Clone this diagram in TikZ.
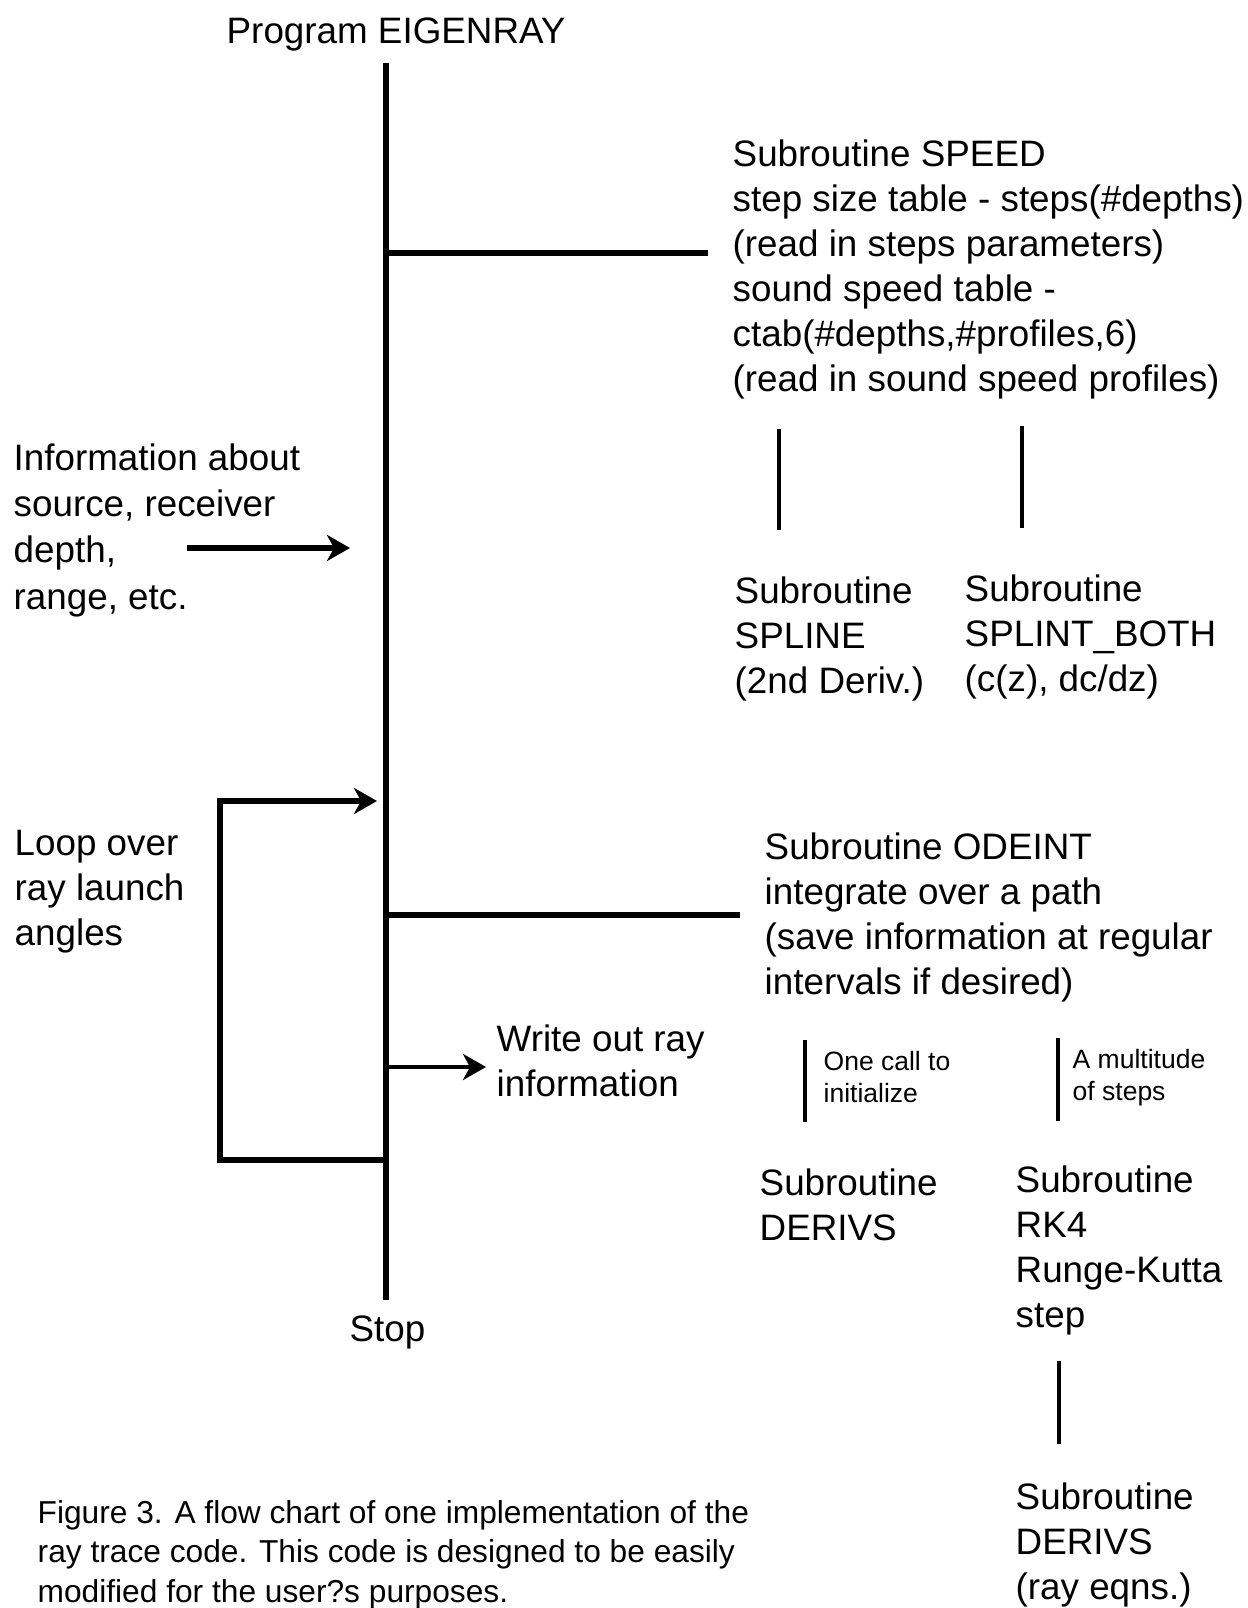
\documentclass[tikz,border=0pt]{standalone}
\usepackage{fontspec}
\setmainfont{Liberation Sans}
\usetikzlibrary{arrows.meta}
\tikzset{> = {Stealth[length=11.5pt,width=13pt,inset=3.5pt]}, every picture/.style={line width=2.7pt}}

\begin{document}
\begin{tikzpicture}[x=0.5pt,y=-0.5pt]
\useasboundingbox (0,0) rectangle (1248,1608);

% texts (a node sits on the baseline of its last line)
\begin{scope}[every node/.style={anchor=base west,align=left,inner sep=0pt,font=\fontsize{18.4}{22.5}\selectfont}]
\node (prog) at (224,43) {Program EIGENRAY};
\node (speed) at (730,391) {Subroutine SPEED\\step size table - steps(\#depths)\\(read in steps parameters)\\sound speed table -\\ctab(\#depths,\#profiles,6)\\(read in sound speed profiles)};
\node (spline) at (732,693) {Subroutine\\SPLINE\\(2nd Deriv.)};
\node (splint) at (962,691) {Subroutine\\SPLINT\_BOTH\\(c(z), dc/dz)};
\node[font=\fontsize{18.4}{23.1}\selectfont] (info) at (11,609) {Information about\\source, receiver\\depth,\\range, etc.};
\node (loop) at (12,945) {Loop over\\ray launch\\angles};
\node (odeint) at (762,994) {Subroutine ODEINT\\integrate over a path\\(save information at regular\\intervals if desired)};
\node (write) at (494,1096) {Write out ray\\information};
\node (derivs) at (757,1240) {Subroutine\\DERIVS};
\node (rkfour) at (1013,1327) {Subroutine\\RK4\\Runge-Kutta\\step};
\node (rayeqn) at (1013,1599) {Subroutine\\DERIVS\\(ray eqns.)};
\node (stop) at (347,1341) {Stop};
\end{scope}

\begin{scope}[every node/.style={anchor=base west,align=left,inner sep=0pt,font=\fontsize{13.25}{16}\selectfont}]
\node (init) at (821,1102) {One call to\\initialize};
\node (many) at (1070,1100) {A multitude\\of steps};
\end{scope}

\node[anchor=base west,align=left,inner sep=0pt,font=\fontsize{15.85}{19.75}\selectfont] (caption) at (35,1602) {Figure 3. A flow chart of one implementation of the\\ray trace code. This code is designed to be easily\\modified for the user?s purposes.};

% main line and its joints
\coordinate (ttop) at (386,63);
\coordinate (tbot) at (386,1300);
\coordinate (jspeed) at (386,253);
\coordinate (jode) at (386,915);
\coordinate (jwrite) at (386,1067);
\coordinate (jloop) at (386,1160);
\coordinate (tloop) at (377,801);
\coordinate (ainfo) at (187,548);
\coordinate (tinfo) at (350,548);

\draw (ttop) -- (tbot);
\draw[line width=3.1pt] (jspeed) -- ([xshift=-11pt]jspeed -| speed.west);
\draw (jode) -- ([xshift=-11pt]jode -| odeint.west);

\begin{scope}[every edge/.style={draw}]
    \path [->, line width=3pt] (ainfo) edge (tinfo);
    \path [->, line width=2pt] (jwrite) edge ([xshift=-4pt]jwrite -| write.west);
\end{scope}
\draw[->] (jloop) -- ++(-166,0) |- (tloop);

% calls below the subroutines
\coordinate (sa) at (779,429);
\coordinate (sb) at (1022,426);
\coordinate (da) at (805,1040);
\coordinate (db) at (1058,1038);
\coordinate (ra) at (1059,1361);
\begin{scope}[every edge/.style={draw,line width=2.3pt}]
    \path (sa) edge ++(0,101);
    \path (sb) edge ++(0,102);
    \path (da) edge ++(0,82);
    \path (db) edge ++(0,83);
    \path (ra) edge ++(0,83);
\end{scope}
\end{tikzpicture}
\end{document}
